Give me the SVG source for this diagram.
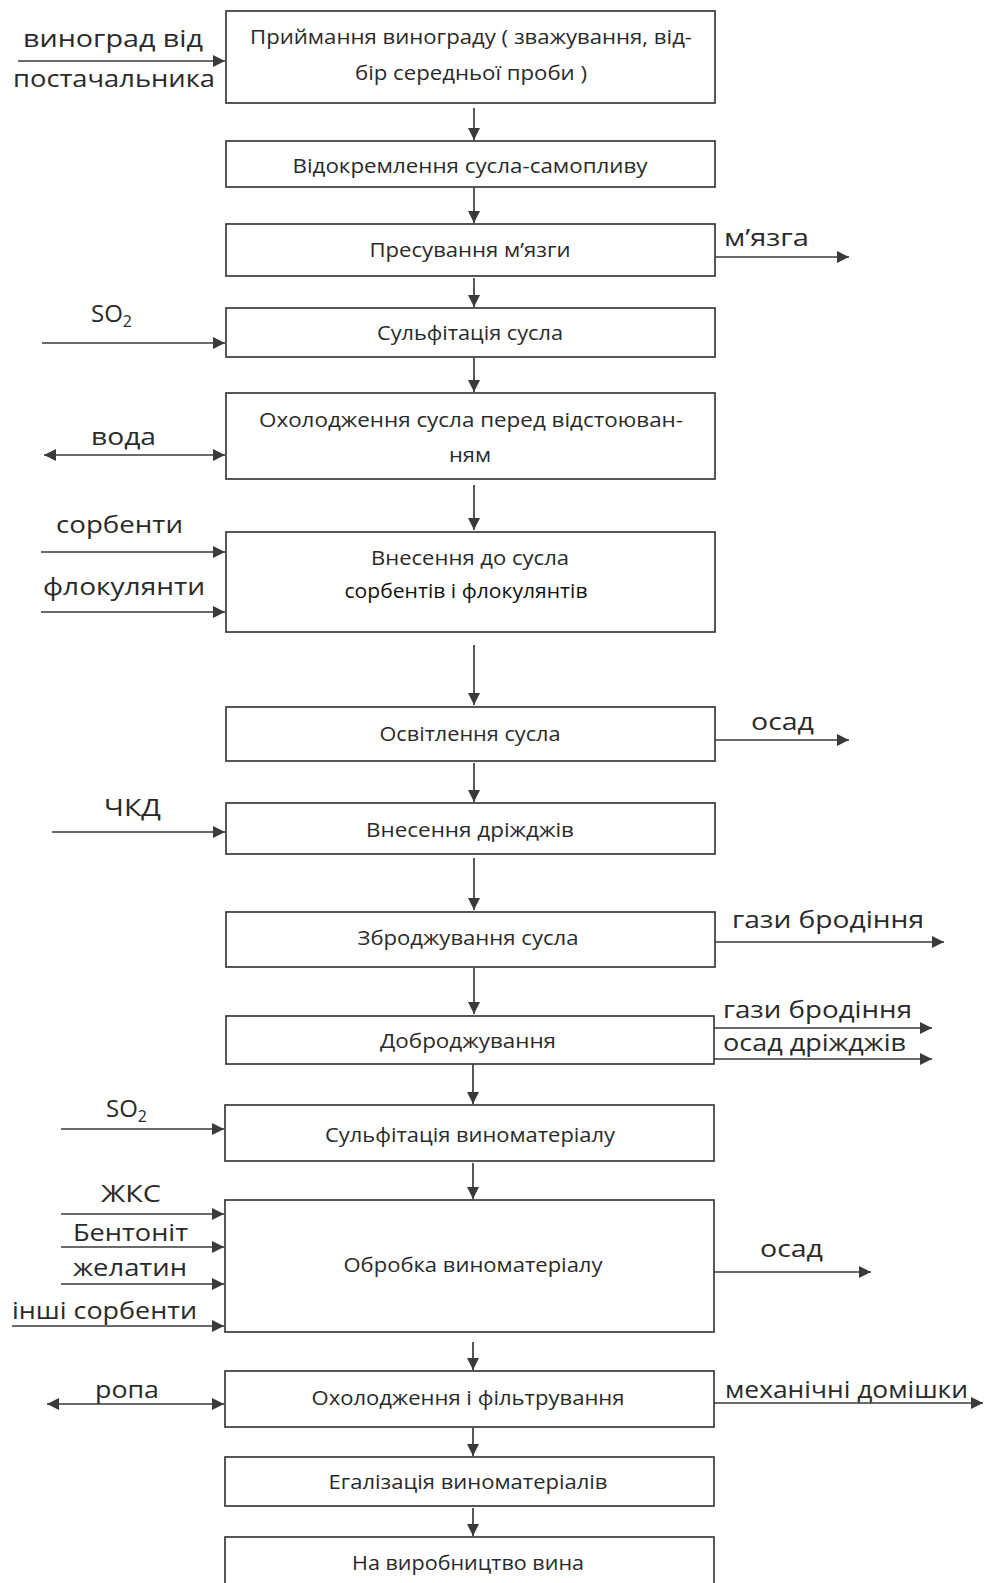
<svg xmlns="http://www.w3.org/2000/svg" width="984" height="1583" viewBox="0 0 984 1583">
<style>
.box{fill:#fff;stroke:#3a3a3a;stroke-width:1.7}
.bt{font-family:"Open Sans","Liberation Sans",sans-serif;font-size:20.5px;fill:#2a2a2a;text-anchor:middle}
.lb{font-family:"Open Sans","Liberation Sans",sans-serif;font-size:24px;fill:#2a2a2a}
.c{stroke:#3a3a3a;stroke-width:1.7;fill:none}
.ca{marker-end:url(#ah)}
.cb{marker-end:url(#ah);marker-start:url(#as)}
</style>
<defs>
<marker id="ah" markerUnits="userSpaceOnUse" markerWidth="14" markerHeight="12" refX="12" refY="6" orient="auto">
<path d="M0,0 L12,6 L0,12 Z" fill="#3a3a3a"/>
</marker>
<marker id="as" markerUnits="userSpaceOnUse" markerWidth="14" markerHeight="12" refX="0" refY="6" orient="auto">
<path d="M12,0 L0,6 L12,12 Z" fill="#3a3a3a"/>
</marker>
</defs>
<rect width="984" height="1583" fill="#fff"/>

<g id="connectors">
<line class="c ca" x1="474" y1="108" x2="474" y2="140"/>
<line class="c ca" x1="474" y1="188" x2="474" y2="223"/>
<line class="c ca" x1="474" y1="278" x2="474" y2="307"/>
<line class="c ca" x1="474" y1="358" x2="474" y2="392"/>
<line class="c ca" x1="474" y1="485" x2="474" y2="530"/>
<line class="c ca" x1="474" y1="645" x2="474" y2="705"/>
<line class="c ca" x1="474" y1="763" x2="474" y2="802"/>
<line class="c ca" x1="474" y1="858" x2="474" y2="910"/>
<line class="c ca" x1="474" y1="968" x2="474" y2="1014"/>
<line class="c ca" x1="473" y1="1064" x2="473" y2="1104"/>
<line class="c ca" x1="473" y1="1163" x2="473" y2="1199"/>
<line class="c ca" x1="473" y1="1342" x2="473" y2="1370"/>
<line class="c ca" x1="473" y1="1428" x2="473" y2="1456"/>
<line class="c ca" x1="473" y1="1508" x2="473" y2="1536"/>

<line class="c ca" x1="18" y1="61" x2="225" y2="61"/>
<line class="c ca" x1="715" y1="257" x2="849" y2="257"/>
<line class="c ca" x1="42" y1="343" x2="225" y2="343"/>
<line class="c cb" x1="44" y1="455" x2="225" y2="455"/>
<line class="c ca" x1="41" y1="552" x2="225" y2="552"/>
<line class="c ca" x1="41" y1="612" x2="225" y2="612"/>
<line class="c ca" x1="715" y1="740" x2="849" y2="740"/>
<line class="c ca" x1="52" y1="832" x2="225" y2="832"/>
<line class="c ca" x1="715" y1="942" x2="944" y2="942"/>
<line class="c ca" x1="714" y1="1028" x2="932" y2="1028"/>
<line class="c ca" x1="714" y1="1059" x2="932" y2="1059"/>
<line class="c ca" x1="61" y1="1129" x2="224" y2="1129"/>
<line class="c ca" x1="61" y1="1214" x2="224" y2="1214"/>
<line class="c ca" x1="61" y1="1247" x2="224" y2="1247"/>
<line class="c ca" x1="61" y1="1284" x2="224" y2="1284"/>
<line class="c ca" x1="12" y1="1326" x2="224" y2="1326"/>
<line class="c ca" x1="714" y1="1272" x2="871" y2="1272"/>
<line class="c cb" x1="47" y1="1404" x2="224" y2="1404"/>
<line class="c ca" x1="714" y1="1403" x2="983" y2="1403"/>
</g>

<g id="n1"><rect class="box" x="226" y="11" width="489" height="92"/>
<text class="bt" x="471" y="44" textLength="442" lengthAdjust="spacingAndGlyphs">Приймання винограду ( зважування, від-</text>
<text class="bt" x="471" y="80" textLength="232" lengthAdjust="spacingAndGlyphs">бір середньої проби )</text></g>
<g id="n2"><rect class="box" x="226" y="141" width="489" height="46"/>
<text class="bt" x="470" y="173" textLength="355" lengthAdjust="spacingAndGlyphs">Відокремлення сусла-самопливу</text></g>
<g id="n3"><rect class="box" x="226" y="224" width="489" height="52"/>
<text class="bt" x="470" y="257" textLength="201" lengthAdjust="spacingAndGlyphs">Пресування м’язги</text></g>
<g id="n4"><rect class="box" x="226" y="308" width="489" height="49"/>
<text class="bt" x="470" y="340" textLength="186" lengthAdjust="spacingAndGlyphs">Сульфітація сусла</text></g>
<g id="n5"><rect class="box" x="226" y="393" width="489" height="86"/>
<text class="bt" x="471" y="427" textLength="424" lengthAdjust="spacingAndGlyphs">Охолодження сусла перед відстоюван-</text>
<text class="bt" x="470" y="462" textLength="42" lengthAdjust="spacingAndGlyphs">ням</text></g>
<g id="n6"><rect class="box" x="226" y="532" width="489" height="100"/>
<text class="bt" x="470" y="565" textLength="198" lengthAdjust="spacingAndGlyphs">Внесення до сусла</text>
<text class="bt" x="466" y="598" textLength="243" lengthAdjust="spacingAndGlyphs" style="fill:#111">сорбентів і флокулянтів</text></g>
<g id="n7"><rect class="box" x="226" y="707" width="489" height="54"/>
<text class="bt" x="470" y="741" textLength="181" lengthAdjust="spacingAndGlyphs">Освітлення сусла</text></g>
<g id="n8"><rect class="box" x="226" y="803" width="489" height="51"/>
<text class="bt" x="470" y="837" textLength="208" lengthAdjust="spacingAndGlyphs">Внесення дріжджів</text></g>
<g id="n9"><rect class="box" x="226" y="912" width="489" height="55"/>
<text class="bt" x="468" y="945" textLength="221" lengthAdjust="spacingAndGlyphs">Зброджування сусла</text></g>
<g id="n10"><rect class="box" x="226" y="1016" width="488" height="48"/>
<text class="bt" x="468" y="1048" textLength="176" lengthAdjust="spacingAndGlyphs">Доброджування</text></g>
<g id="n11"><rect class="box" x="225" y="1105" width="489" height="56"/>
<text class="bt" x="470" y="1142" textLength="290" lengthAdjust="spacingAndGlyphs">Сульфітація виноматеріалу</text></g>
<g id="n12"><rect class="box" x="225" y="1200" width="489" height="132"/>
<text class="bt" x="473" y="1272" textLength="259" lengthAdjust="spacingAndGlyphs">Обробка виноматеріалу</text></g>
<g id="n13"><rect class="box" x="225" y="1371" width="489" height="56"/>
<text class="bt" x="468" y="1405" textLength="313" lengthAdjust="spacingAndGlyphs">Охолодження і фільтрування</text></g>
<g id="n14"><rect class="box" x="225" y="1457" width="489" height="49"/>
<text class="bt" x="468" y="1489" textLength="279" lengthAdjust="spacingAndGlyphs">Егалізація виноматеріалів</text></g>
<g id="n15"><rect class="box" x="225" y="1537" width="489" height="60"/>
<text class="bt" x="468" y="1570" textLength="232" lengthAdjust="spacingAndGlyphs">На виробництво вина</text></g>

<g id="labels">
<text class="lb" x="23" y="47" textLength="180" lengthAdjust="spacingAndGlyphs">виноград  від</text>
<text class="lb" x="13" y="87" textLength="202" lengthAdjust="spacingAndGlyphs">постачальника</text>
<text class="lb" x="724" y="246" textLength="85" lengthAdjust="spacingAndGlyphs">м’язга</text>
<text class="lb" x="91" y="322">SO<tspan font-size="16" dy="5">2</tspan></text>
<text class="lb" x="91" y="445" textLength="65" lengthAdjust="spacingAndGlyphs">вода</text>
<text class="lb" x="56" y="533" textLength="127" lengthAdjust="spacingAndGlyphs">сорбенти</text>
<text class="lb" x="43" y="595" textLength="162" lengthAdjust="spacingAndGlyphs">флокулянти</text>
<text class="lb" x="751" y="730" textLength="63" lengthAdjust="spacingAndGlyphs">осад</text>
<text class="lb" x="104" y="816" textLength="57" lengthAdjust="spacingAndGlyphs">ЧКД</text>
<text class="lb" x="732" y="928" textLength="192" lengthAdjust="spacingAndGlyphs">гази бродіння</text>
<text class="lb" x="723" y="1018" textLength="189" lengthAdjust="spacingAndGlyphs">гази бродіння</text>
<text class="lb" x="723" y="1051" textLength="183" lengthAdjust="spacingAndGlyphs">осад дріжджів</text>
<text class="lb" x="106" y="1117">SO<tspan font-size="16" dy="5">2</tspan></text>
<text class="lb" x="101" y="1202" textLength="60" lengthAdjust="spacingAndGlyphs">ЖКС</text>
<text class="lb" x="73" y="1241" textLength="115" lengthAdjust="spacingAndGlyphs">Бентоніт</text>
<text class="lb" x="73" y="1276" textLength="114" lengthAdjust="spacingAndGlyphs">желатин</text>
<text class="lb" x="12" y="1319" textLength="185" lengthAdjust="spacingAndGlyphs">інші сорбенти</text>
<text class="lb" x="760" y="1257" textLength="63" lengthAdjust="spacingAndGlyphs">осад</text>
<text class="lb" x="95" y="1398" textLength="64" lengthAdjust="spacingAndGlyphs">ропа</text>
<text class="lb" x="725" y="1398" textLength="243" lengthAdjust="spacingAndGlyphs">механічні домішки</text>
</g>
</svg>
